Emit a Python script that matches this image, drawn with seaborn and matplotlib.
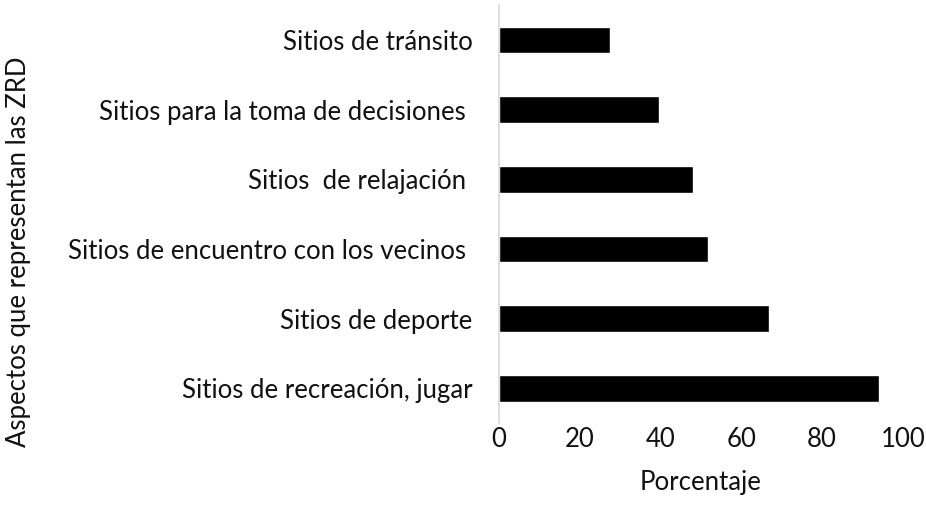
import matplotlib
matplotlib.use("Agg")
import matplotlib.pyplot as plt
import seaborn as sns
import pandas as pd

# categorias de arriba hacia abajo
aspectos = [
    "Sitios de tránsito",
    "Sitios para la toma de decisiones ",
    "Sitios  de relajación ",
    "Sitios de encuentro con los vecinos ",
    "Sitios de deporte",
    "Sitios de recreación, jugar",
]
porcentaje = [27.5, 39.6, 48.1, 51.7, 66.8, 94.1]

data = pd.DataFrame({"aspecto": aspectos, "porcentaje": porcentaje})

sns.set_style("white")
plt.rcParams["font.family"] = ["Lato", "DejaVu Sans"]
txt = "#111111"
fs = 18.5

fig = plt.figure(figsize=(9.26, 5.18), dpi=100)
ax = fig.add_axes([0.539, 0.183, 0.436, 0.807])

sns.barplot(data=data, x="porcentaje", y="aspecto", orient="h",
            color="black", width=0.38, saturation=1, ax=ax)

ax.set_xlim(0, 100)
ax.set_xticks([0, 20, 40, 60, 80, 100])
ax.set_xlabel("Porcentaje", fontsize=fs, color=txt, labelpad=13)
ax.set_ylabel("Aspectos que representan las ZRD", fontsize=fs, color=txt)
ax.yaxis.set_label_coords(-1.159, 0.41)
ax.tick_params(axis="x", length=0, pad=3, labelsize=fs, colors=txt)
ax.tick_params(axis="y", length=0, pad=19, labelsize=fs, colors=txt)

for s in ["top", "right", "bottom"]:
    ax.spines[s].set_visible(False)
ax.spines["left"].set_color("#d9d9d9")
ax.spines["left"].set_linewidth(1.2)

fig.savefig("out.png", dpi=100)
